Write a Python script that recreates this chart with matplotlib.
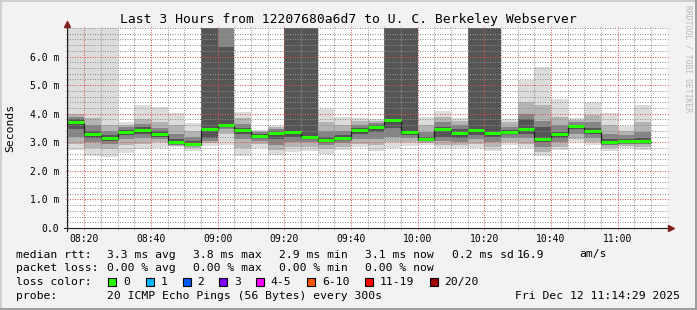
import numpy as np
import matplotlib
matplotlib.use("Agg")
import matplotlib.pyplot as plt
import matplotlib.transforms as mtransforms
from matplotlib.patches import Rectangle
from matplotlib.lines import Line2D

# --- Data ---
# one round every 5 minutes, x = minutes after 08:00 (08:15 ... 11:05)
round_start = np.arange(15, 190, 5)

median_ms = [3.71, 3.29, 3.15, 3.36, 3.43, 3.29, 3.00, 2.94, 3.47, 3.60,
             3.43, 3.22, 3.33, 3.36, 3.19, 3.08, 3.15, 3.43, 3.54, 3.78,
             3.36, 3.12, 3.47, 3.33, 3.43, 3.33, 3.36, 3.47, 3.12, 3.29,
             3.57, 3.40, 3.00, 3.05, 3.05]

# smoke bands, outermost first (8.0 = beyond the top of the graph)
band1_lo = [2.72, 2.52, 2.47, 2.61, 2.75, 2.79, 2.83, 2.71, 2.87, 2.90,
            2.52, 2.80, 2.56, 2.67, 2.70, 2.58, 2.73, 2.85, 2.71, 2.79,
            2.87, 2.90, 2.79, 2.79, 2.79, 2.71, 2.90, 2.79, 2.52, 2.73,
            3.02, 2.90, 2.71, 2.79, 2.73]
band1_hi = [8.0, 8.0, 8.0, 3.71, 4.30, 4.25, 4.02, 3.67, 8.0, 8.0,
            4.05, 3.43, 3.57, 8.0, 8.0, 4.15, 3.89, 3.84, 3.82, 8.0,
            8.0, 3.89, 4.09, 3.86, 8.0, 8.0, 3.82, 5.18, 5.62, 4.52,
            3.84, 4.41, 4.03, 3.57, 4.31]
band2_lo = [2.95, 2.80, 2.75, 2.90, 2.95, 3.00, 2.86, 2.80, 2.97, 3.30,
            2.80, 2.95, 2.72, 2.85, 2.85, 2.75, 2.85, 2.95, 2.90, 3.00,
            3.00, 2.98, 2.90, 2.90, 2.95, 2.85, 3.00, 2.95, 2.65, 2.85,
            3.10, 3.00, 2.80, 2.86, 2.85]
band2_hi = [4.00, 3.85, 3.60, 3.62, 3.80, 3.70, 3.60, 3.40, 8.0, 8.0,
            3.85, 3.40, 3.53, 8.0, 8.0, 3.70, 3.60, 3.75, 3.76, 8.0,
            8.0, 3.60, 3.90, 3.75, 8.0, 8.0, 3.70, 4.40, 4.30, 3.90,
            3.78, 3.95, 3.60, 3.40, 3.70]
band3_lo = [3.20, 3.00, 2.95, 3.10, 3.15, 3.10, 2.92, 2.86, 3.05, 3.45,
            3.10, 3.05, 2.90, 3.00, 3.00, 2.90, 2.98, 3.10, 3.10, 3.20,
            3.15, 3.03, 3.05, 3.00, 3.10, 3.00, 3.15, 3.15, 2.85, 3.00,
            3.30, 3.15, 2.90, 2.95, 2.95]
band3_hi = [3.90, 3.60, 3.40, 3.52, 3.65, 3.50, 3.30, 3.20, 8.0, 8.0,
            3.65, 3.35, 3.48, 8.0, 8.0, 3.40, 3.40, 3.60, 3.68, 8.0,
            8.0, 3.35, 3.70, 3.60, 8.0, 8.0, 3.55, 4.00, 3.75, 3.60,
            3.70, 3.70, 3.30, 3.25, 3.35]
band4_lo = [3.45, 3.15, 3.05, 3.25, 3.30, 3.20, 2.96, 2.90, 3.15, 3.52,
            3.30, 3.15, 3.10, 3.20, 3.10, 3.00, 3.08, 3.30, 3.35, 3.50,
            3.25, 3.08, 3.20, 3.15, 3.25, 3.20, 3.28, 3.30, 3.00, 3.15,
            3.45, 3.30, 2.95, 3.00, 3.00]
band4_hi = [3.80, 3.40, 3.25, 3.42, 3.52, 3.38, 3.10, 3.05, 8.0, 6.35,
            3.50, 3.28, 3.40, 8.0, 8.0, 3.20, 3.25, 3.50, 3.60, 8.0,
            8.0, 3.20, 3.55, 3.45, 8.0, 8.0, 3.42, 3.80, 3.55, 3.35,
            3.62, 3.50, 3.10, 3.12, 3.15]

band_colors = ["#dcdcdc", "#b4b4b4", "#858585", "#555555"]

x_ticks = [20, 40, 60, 80, 100, 120, 140, 160, 180]
x_labels = ["08:20", "08:40", "09:00", "09:20", "09:40",
            "10:00", "10:20", "10:40", "11:00"]
y_ticks = [0, 1, 2, 3, 4, 5, 6]
y_labels = ["0.0", "1.0 m", "2.0 m", "3.0 m", "4.0 m", "5.0 m", "6.0 m"]

title = "Last 3 Hours from 12207680a6d7 to U. C. Berkeley Webserver"
rtt_items = ["median rtt:", "3.3 ms avg", "3.8 ms max", "2.9 ms min",
             "3.1 ms now", "0.2 ms sd", "16.9", "am/s"]
loss_items = ["packet loss:", "0.00 % avg", "0.00 % max", "0.00 % min",
              "0.00 % now"]
loss_labels = ["0", "1", "2", "3", "4-5", "6-10", "11-19", "20/20"]
loss_colors = ["#26ff00", "#00b8ff", "#0059ff", "#7e00ff",
               "#ff00ff", "#ff5500", "#ff0000", "#a10000"]
probe_text = "20 ICMP Echo Pings (56 Bytes) every 300s"
stamp_text = "Fri Dec 12 11:14:29 2025"

# --- Layout helpers (pixel coordinates of the 697x310 image) ---
W, H = 697, 310
MONO = "DejaVu Sans Mono"
GRID_MINOR = (0.56, 0.56, 0.56, 0.38)
GRID_MAJOR = (0.87, 0.31, 0.31, 0.45)


def px(x):
    return x / W


def py(y):
    return 1 - y / H


fig = plt.figure(figsize=(W / 100, H / 100), dpi=100, facecolor="#f2f2f2")
ax = fig.add_axes([px(67), py(228), 600 / W, 200 / H])
ax.set_facecolor("white")

# smoke
bands = [(band1_lo, band1_hi), (band2_lo, band2_hi),
         (band3_lo, band3_hi), (band4_lo, band4_hi)]
for (lo, hi), col in zip(bands, band_colors):
    lo = np.array(lo)
    hi = np.array(hi)
    ax.bar(round_start, hi - lo, bottom=lo, width=5, align="edge",
           color=col, linewidth=0, antialiased=False, zorder=1)

# median: thin dark step line + thick green segments (loss 0)
down1 = mtransforms.offset_copy(ax.transData, fig=fig, x=0, y=-1, units="dots")
edges = np.append(round_start, round_start[-1] + 5)
ax.step(edges, np.append(median_ms, median_ms[-1]), where="post",
        color="#202020", lw=0.9, zorder=4, transform=down1)
ax.hlines(median_ms, round_start, round_start + 5, colors=loss_colors[0],
          lw=2.2, zorder=5)

ax.set_xlim(14.8, 194.8)
ax.set_ylim(0, 7)

ax.set_xticks(x_ticks)
ax.set_xticklabels(x_labels)
ax.set_xticks(np.arange(15, 195, 5), minor=True)
ax.set_yticks(y_ticks)
ax.set_yticklabels(y_labels)
ax.set_yticks(np.arange(0, 7.01, 0.2), minor=True)

ax.set_axisbelow(False)
ax.grid(which="minor", color=GRID_MINOR, linestyle=(0, (1, 1.5)), lw=0.72)
ax.grid(which="major", color=GRID_MAJOR, linestyle=(0, (1, 1.5)), lw=0.72)

ax.tick_params(which="both", direction="out", length=1.5, width=0.72,
               top=True, right=True, labelsize=7)
ax.tick_params(which="major", color=GRID_MAJOR)
ax.tick_params(which="minor", color=GRID_MINOR)
ax.tick_params(axis="x", which="major", pad=2.8)
ax.tick_params(axis="y", which="major", pad=4.2)
for lab in ax.get_xticklabels() + ax.get_yticklabels():
    lab.set_family(MONO)

for sp in ax.spines.values():
    sp.set_visible(False)

# axes with arrows
ax.plot([-0.005, 1.002], [0, 0], transform=ax.transAxes, color="#1f1f1f",
        lw=0.8, clip_on=False, zorder=6)
ax.plot([0, 0], [-0.015, 1.0], transform=ax.transAxes, color="#1f1f1f",
        lw=0.8, clip_on=False, zorder=6)
ax.plot([1.006], [0], marker=">", ms=4.5, color="#801f1f",
        transform=ax.transAxes, clip_on=False, zorder=7)
ax.plot([0], [1.018], marker="^", ms=4.5, color="#801f1f",
        transform=ax.transAxes, clip_on=False, zorder=7)

# texts
fig.text(px(348.5), py(19), title, ha="center", va="center",
         fontsize=9.4, family=MONO)
fig.text(px(10), py(128), "Seconds", rotation=90, ha="center",
         va="center", fontsize=8.2, family=MONO)
fig.text(px(688), py(59), "RRDTOOL / TOBI OETIKER", rotation=270,
         ha="center", va="center", fontsize=5.8, family=MONO,
         color="#b8b8b8")

LEG = 8.2
rtt_x = [16, 107, 193, 279, 365, 451.7, 516.7, 579.3]
for s, x in zip(rtt_items, rtt_x):
    fig.text(px(x), py(254.5), s, ha="left", va="center",
             fontsize=LEG, family=MONO)
loss_x = [16, 107.3, 193.3, 279.3, 365]
for s, x in zip(loss_items, loss_x):
    fig.text(px(x), py(268.3), s, ha="left", va="center",
             fontsize=LEG, family=MONO)
fig.text(px(16), py(282.3), "loss color:", ha="left", va="center",
         fontsize=LEG, family=MONO)
box_x = [108.3, 145.7, 182.7, 219.3, 256, 307.3, 365, 430]
for lab, col, x in zip(loss_labels, loss_colors, box_x):
    fig.add_artist(Rectangle((px(x), py(286.3)), 8 / W, 8 / H,
                             transform=fig.transFigure, facecolor=col,
                             edgecolor="black", lw=0.8))
    fig.text(px(x + 14.5), py(282.3), lab, ha="left", va="center",
             fontsize=LEG, family=MONO)
fig.text(px(16), py(296.2), "probe:", ha="left", va="center",
         fontsize=LEG, family=MONO)
fig.text(px(107.3), py(296.2), probe_text, ha="left", va="center",
         fontsize=LEG, family=MONO)
fig.text(px(680), py(296.2), stamp_text, ha="right", va="center",
         fontsize=LEG, family=MONO)

# 3d-ish frame around the image
fig.add_artist(Line2D([0, 1], [py(0.7), py(0.7)], color="#cfcfcf", lw=1.44))
fig.add_artist(Line2D([px(0.7), px(0.7)], [0, 1], color="#cfcfcf", lw=1.44))
fig.add_artist(Line2D([0, 1], [py(H - 1), py(H - 1)], color="#9e9e9e", lw=1.44))
fig.add_artist(Line2D([px(W - 1), px(W - 1)], [0, 1], color="#9e9e9e", lw=1.44))

fig.savefig("out.png", dpi=100, facecolor=fig.get_facecolor())
